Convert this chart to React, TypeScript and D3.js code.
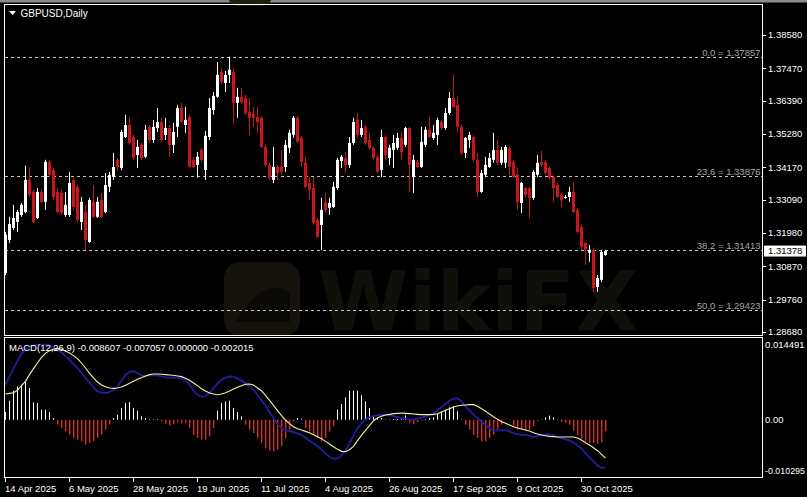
import React from "react";
import * as d3 from "d3";

// ---- price data (daily candles, 14 Apr 2025 .. 7 Nov 2025) ----
const opens = [
  1.3065, 1.3175, 1.3215, 1.3235, 1.3258, 1.3268, 1.3375, 1.3335, 1.3248, 1.3335,
  1.3302, 1.3435, 1.3408, 1.3335, 1.3332, 1.3258, 1.3258, 1.3375, 1.3352, 1.3235,
  1.3268, 1.3168, 1.3302, 1.3252, 1.3308, 1.3268, 1.3352, 1.3385, 1.3442, 1.3415,
  1.3518, 1.3558, 1.3518, 1.3458, 1.3492, 1.3452, 1.3552, 1.3508, 1.3548, 1.3568,
  1.3525, 1.3548, 1.3492, 1.3552, 1.3615, 1.3558, 1.3585, 1.3442, 1.3425, 1.3475,
  1.3408, 1.3518, 1.3608, 1.3652, 1.3735, 1.3698, 1.3725, 1.3735, 1.3632, 1.3652,
  1.3648, 1.3602, 1.3595, 1.3585, 1.3582, 1.3485, 1.3425, 1.3375, 1.3418, 1.3418,
  1.3418, 1.3482, 1.3525, 1.3582, 1.3515, 1.3432, 1.3365, 1.3348, 1.3242, 1.3225,
  1.3302, 1.3282, 1.3285, 1.3348, 1.3438, 1.3448, 1.3425, 1.3498, 1.3575, 1.3525,
  1.3552, 1.3508, 1.3482, 1.3452, 1.3408, 1.3518, 1.3448, 1.3475, 1.3482, 1.3515,
  1.3492, 1.3548, 1.3385, 1.3435, 1.3418, 1.3492, 1.3542, 1.3515, 1.3525, 1.3568,
  1.3548, 1.3598, 1.3648, 1.3625, 1.3552, 1.3465, 1.3508, 1.3518, 1.3442, 1.3335,
  1.3392, 1.3418, 1.3442, 1.3475, 1.3432, 1.3432, 1.3482, 1.3435, 1.3392, 1.3298,
  1.3348, 1.3348, 1.3315, 1.3392, 1.3435, 1.3435, 1.3415, 1.3385, 1.3358, 1.3325,
  1.3315, 1.3318, 1.3335, 1.3275, 1.3218, 1.3165, 1.3132, 1.3142, 1.3018, 1.3042,
  1.3125,
];
const highs = [
  1.3202, 1.3252, 1.3292, 1.3275, 1.3298, 1.3422, 1.3418, 1.3342, 1.3348, 1.3342,
  1.3442, 1.3442, 1.3415, 1.3348, 1.3342, 1.3335, 1.3402, 1.3382, 1.3358, 1.3318,
  1.3292, 1.3315, 1.3358, 1.3318, 1.3332, 1.3398, 1.3402, 1.3465, 1.3448, 1.3542,
  1.3592, 1.3582, 1.3525, 1.3508, 1.3498, 1.3558, 1.3558, 1.3575, 1.3615, 1.3582,
  1.3582, 1.3558, 1.3565, 1.3625, 1.3632, 1.3618, 1.3592, 1.3452, 1.3468, 1.3482,
  1.3538, 1.3648, 1.3668, 1.3768, 1.3748, 1.3738, 1.37857, 1.3748, 1.3682, 1.3682,
  1.3658, 1.3648, 1.3618, 1.3618, 1.3588, 1.3492, 1.3432, 1.3485, 1.3425, 1.3475,
  1.3508, 1.3542, 1.3588, 1.3588, 1.3522, 1.3452, 1.3385, 1.3385, 1.3248, 1.3315,
  1.3332, 1.3315, 1.3368, 1.3448, 1.3458, 1.3468, 1.3518, 1.3582, 1.3598, 1.3575,
  1.3558, 1.3532, 1.3485, 1.3458, 1.3542, 1.3525, 1.3492, 1.3525, 1.3532, 1.3535,
  1.3552, 1.3552, 1.3458, 1.3442, 1.3552, 1.3552, 1.3585, 1.3558, 1.3582, 1.3575,
  1.3615, 1.3668, 1.3728, 1.3652, 1.3558, 1.3518, 1.3535, 1.3525, 1.3465, 1.3408,
  1.3452, 1.3465, 1.3532, 1.3508, 1.3485, 1.3492, 1.3485, 1.3442, 1.3415, 1.3368,
  1.3352, 1.3352, 1.3408, 1.3458, 1.3472, 1.3442, 1.3418, 1.3392, 1.3365, 1.3332,
  1.3325, 1.3352, 1.3368, 1.3282, 1.3225, 1.3168, 1.3158, 1.3148, 1.3058, 1.3142,
  1.3142,
];
const lows = [
  1.3058, 1.3165, 1.3208, 1.3202, 1.3252, 1.3265, 1.3318, 1.3232, 1.3245, 1.3298,
  1.3275, 1.3385, 1.3308, 1.3265, 1.3258, 1.3252, 1.3252, 1.3275, 1.3235, 1.3208,
  1.3142, 1.3165, 1.3248, 1.3248, 1.3248, 1.3265, 1.3335, 1.3375, 1.3408, 1.3408,
  1.3515, 1.3492, 1.3442, 1.3415, 1.3442, 1.3448, 1.3498, 1.3498, 1.3535, 1.3502,
  1.3508, 1.3452, 1.3465, 1.3518, 1.3565, 1.3532, 1.3415, 1.3415, 1.3382, 1.3435,
  1.3375, 1.3508, 1.3592, 1.3648, 1.3695, 1.3668, 1.3698, 1.3562, 1.3582, 1.3628,
  1.3592, 1.3525, 1.3552, 1.3532, 1.3482, 1.3418, 1.3375, 1.3365, 1.3375, 1.3392,
  1.3402, 1.3465, 1.3515, 1.3498, 1.3418, 1.3348, 1.3308, 1.3225, 1.3182, 1.3141,
  1.3265, 1.3258, 1.3282, 1.3342, 1.3415, 1.3398, 1.3415, 1.3492, 1.3515, 1.3518,
  1.3492, 1.3475, 1.3442, 1.3398, 1.3385, 1.3442, 1.3425, 1.3415, 1.3475, 1.3442,
  1.3485, 1.3335, 1.3332, 1.3415, 1.3415, 1.3485, 1.3515, 1.3508, 1.3492, 1.3542,
  1.3542, 1.3592, 1.3615, 1.3532, 1.3458, 1.3448, 1.3482, 1.3435, 1.3318, 1.3332,
  1.3385, 1.3415, 1.3432, 1.3425, 1.3425, 1.3415, 1.3392, 1.3382, 1.3275, 1.3265,
  1.3315, 1.3248, 1.3308, 1.3385, 1.3418, 1.3392, 1.3375, 1.3302, 1.3315, 1.3285,
  1.3312, 1.3302, 1.3265, 1.3198, 1.3142, 1.3092, 1.3102, 1.3002, 1.3002, 1.3035,
  1.3122,
];
const closes = [
  1.3192, 1.3228, 1.3248, 1.3268, 1.3292, 1.3375, 1.3325, 1.3235, 1.3335, 1.3302,
  1.3435, 1.3392, 1.3318, 1.3268, 1.3265, 1.3292, 1.3365, 1.3285, 1.3242, 1.3302,
  1.3175, 1.3308, 1.3252, 1.3302, 1.3252, 1.3358, 1.3392, 1.3418, 1.3418, 1.3535,
  1.3558, 1.3498, 1.3448, 1.3485, 1.3448, 1.3542, 1.3508, 1.3552, 1.3568, 1.3508,
  1.3548, 1.3492, 1.3535, 1.3615, 1.3568, 1.3575, 1.3418, 1.3418, 1.3452, 1.3442,
  1.3522, 1.3615, 1.3655, 1.3725, 1.3702, 1.3725, 1.3742, 1.3632, 1.3652, 1.3635,
  1.3598, 1.3582, 1.3582, 1.3568, 1.3485, 1.3425, 1.3382, 1.3418, 1.3398, 1.3402,
  1.3492, 1.3532, 1.3582, 1.3502, 1.3435, 1.3352, 1.3342, 1.3232, 1.3185, 1.3275,
  1.3275, 1.3298, 1.3352, 1.3442, 1.3452, 1.3425, 1.3498, 1.3568, 1.3525, 1.3548,
  1.3498, 1.3482, 1.3448, 1.3402, 1.3518, 1.3458, 1.3482, 1.3498, 1.3515, 1.3468,
  1.3548, 1.3425, 1.3442, 1.3418, 1.3502, 1.3542, 1.3518, 1.3532, 1.3575, 1.3548,
  1.3598, 1.3648, 1.3618, 1.3552, 1.3465, 1.3515, 1.3525, 1.3442, 1.3335, 1.3398,
  1.3425, 1.3448, 1.3475, 1.3432, 1.3475, 1.3485, 1.3418, 1.3385, 1.3302, 1.3365,
  1.3325, 1.3315, 1.3402, 1.3432, 1.3425, 1.3398, 1.3382, 1.3348, 1.3318, 1.3308,
  1.3318, 1.3335, 1.3268, 1.3202, 1.3152, 1.3142, 1.3142, 1.3015, 1.3048, 1.3135,
  1.31378,
];

// ---- MACD(12,26,9) sub-window ----
const macdLine = [
  0.00629, 0.00779, 0.00916, 0.0106, 0.01186, 0.01264, 0.01306, 0.01336, 0.01342, 0.01348,
  0.01348, 0.01336, 0.01306, 0.01258, 0.0121, 0.01144, 0.01072, 0.01, 0.00928, 0.00839,
  0.00749, 0.00665, 0.00581, 0.00509, 0.00485, 0.00479, 0.00497, 0.00533, 0.00599, 0.00701,
  0.00809, 0.00857, 0.00869, 0.00839, 0.00797, 0.00779, 0.00791, 0.00797, 0.00797, 0.00779,
  0.00761, 0.00755, 0.00755, 0.00755, 0.00743, 0.00707, 0.00629, 0.00521, 0.00449, 0.00413,
  0.00425, 0.00479, 0.00569, 0.00647, 0.00713, 0.00755, 0.00779, 0.00773, 0.00737, 0.00701,
  0.00653, 0.00599, 0.00539, 0.00449, 0.00347, 0.00252, 0.00138, 0.0003, -0.00078, -0.0015,
  -0.00186, -0.00204, -0.00222, -0.00246, -0.00276, -0.00329, -0.00377, -0.00425, -0.00473, -0.00539,
  -0.00605, -0.00671, -0.00701, -0.00701, -0.00641, -0.00557, -0.00419, -0.00282, -0.0015, -0.0006,
  0.0, 0.00042, 0.00066, 0.00078, 0.00084, 0.0009, 0.00084, 0.00066, 0.00048, 0.0003,
  0.00018, 0.00006, 0.0, 0.00018, 0.00036, 0.00054, 0.00084, 0.0012, 0.00168, 0.00222,
  0.00282, 0.00341, 0.00377, 0.00383, 0.00329, 0.0024, 0.00162, 0.0009, 0.0003, -0.0003,
  -0.0009, -0.0015, -0.00198, -0.00198, -0.00186, -0.00192, -0.0021, -0.0024, -0.00258, -0.0027,
  -0.00276, -0.00288, -0.00317, -0.00293, -0.00276, -0.00264, -0.00264, -0.00282, -0.00311, -0.00335,
  -0.00353, -0.00371, -0.00407, -0.00461, -0.00521, -0.00599, -0.00677, -0.00749, -0.00821, -0.00869,
  -0.00857,
];
const signalLine = [
  0.00461, 0.00473, 0.00485, 0.00527, 0.00611, 0.00689, 0.00809, 0.00916, 0.01018, 0.0112,
  0.01192, 0.0124, 0.0127, 0.01276, 0.01264, 0.01234, 0.01198, 0.0115, 0.01096, 0.01018,
  0.00928, 0.00833, 0.00749, 0.00677, 0.00623, 0.00593, 0.00569, 0.00563, 0.00569, 0.00587,
  0.00617, 0.00653, 0.00689, 0.00725, 0.00755, 0.00785, 0.00809, 0.00821, 0.00821, 0.00815,
  0.00809, 0.00803, 0.00797, 0.00785, 0.00773, 0.00743, 0.00707, 0.00659, 0.00611, 0.00557,
  0.00515, 0.00479, 0.00461, 0.00449, 0.00461, 0.00485, 0.00515, 0.00551, 0.00581, 0.00611,
  0.00635, 0.00641, 0.00623, 0.00569, 0.00521, 0.00437, 0.00347, 0.00258, 0.00162, 0.00072,
  -0.00006, -0.00072, -0.00126, -0.00162, -0.00186, -0.0021, -0.00234, -0.0027, -0.00305, -0.00341,
  -0.00389, -0.00437, -0.00485, -0.00533, -0.00569, -0.00575, -0.00539, -0.00479, -0.00377, -0.00282,
  -0.00192, -0.00108, -0.00018, 0.0003, 0.0006, 0.00084, 0.00096, 0.00108, 0.00114, 0.0012,
  0.00114, 0.00108, 0.00102, 0.00096, 0.0009, 0.0009, 0.0009, 0.00096, 0.00108, 0.00138,
  0.00168, 0.00198, 0.00228, 0.00246, 0.00258, 0.00264, 0.0027, 0.0027, 0.0024, 0.00198,
  0.0015, 0.00102, 0.00054, 0.00006, -0.00036, -0.00066, -0.00096, -0.00126, -0.0015, -0.00168,
  -0.00186, -0.00204, -0.00234, -0.00258, -0.00276, -0.00288, -0.003, -0.00305, -0.00311, -0.00311,
  -0.00311, -0.00311, -0.00311, -0.00329, -0.00365, -0.00413, -0.00455, -0.00503, -0.00557, -0.00623,
  -0.00689,
];
const histogram = [
  0.00138, 0.00341, 0.00521, 0.00599, 0.00629, 0.00677, 0.00569, 0.00311, 0.003, 0.0018,
  0.0018, 0.00138, 0.0003, -0.0009, -0.0015, -0.0021, -0.0027, -0.00329, -0.00359, -0.00389,
  -0.00449, -0.00419, -0.00389, -0.00329, -0.0027, -0.0018, -0.0009, 0.0003, 0.0009, 0.0021,
  0.003, 0.00317, 0.0021, 0.00162, 0.0006, 0.0003, 0.00012, 0.00006, 0.00012, -0.0003,
  -0.00078, -0.00102, -0.00078, -0.00048, -0.00066, -0.0006, -0.0015, -0.0027, -0.00329, -0.00359,
  -0.00359, -0.003, -0.0015, 0.00162, 0.003, 0.00329, 0.00341, 0.0021, 0.00138, 0.0006,
  -0.0009, -0.0018, -0.0024, -0.00329, -0.00419, -0.00509, -0.00557, -0.00569, -0.00539, -0.00479,
  -0.00329, -0.0018, -0.0003, 0.0003, 0.00018, -0.0015, -0.0021, -0.0027, -0.00329, -0.00389,
  -0.00329, -0.0021, -0.0012, 0.0018, 0.00282, 0.00401, 0.00521, 0.00521, 0.00521, 0.00437,
  0.00329, 0.0021, 0.00072, 0.00042, 0.0003, 0.00006, 0.00006, 0.00012, 0.00012, 0.00012,
  0.00078, -0.0006, -0.00078, -0.00042, -0.00018, 0.00012, 0.0003, 0.00042, 0.00102, 0.00138,
  0.0018, 0.00222, 0.0024, 0.0015, 0.00006, -0.0009, -0.0018, -0.0027, -0.00329, -0.00389,
  -0.00389, -0.00329, -0.0027, -0.0018, -0.0009, -0.00006, -0.00006, -0.0012, -0.0018, -0.0018,
  -0.00192, -0.0018, -0.0012, -0.00018, 0.00006, 0.00042, 0.00072, 0.00042, 0.00006, -0.00042,
  -0.0006, -0.0009, -0.00198, -0.00282, -0.00341, -0.00389, -0.00419, -0.00419, -0.00431, -0.00407,
  -0.0021,
];

// ---- axes, levels, labels ----
const priceTicks = [1.3858, 1.3747, 1.3639, 1.3528, 1.3417, 1.3309, 1.3198, 1.3087, 1.2976, 1.2868];
const priceTickLabels = ["1.38580", "1.37470", "1.36390", "1.35280", "1.34170", "1.33090", "1.31980", "1.30870", "1.29760", "1.28680"];
const fibLevels = ["0.0", "23.6", "38.2", "50.0"];
const fibPrices = [1.37857, 1.33876, 1.31413, 1.29423];
const fibPriceLabels = ["1.37857", "1.33876", "1.31413", "1.29423"];
const dateTickIndex = [0, 16, 32, 48, 64, 80, 96, 112, 128, 144];
const dateTickLabels = ["14 Apr 2025", "6 May 2025", "28 May 2025", "19 Jun 2025", "11 Jul 2025", "4 Aug 2025", "26 Aug 2025", "17 Sep 2025", "9 Oct 2025", "30 Oct 2025"];
const macdAxisValues = [0.014491, 0, -0.010295];
const macdAxisLabels = ["0.014491", "0.00", "-0.010295"];
const lastPrice = 1.31378;
const lastPriceLabel = "1.31378";
const symbolTitle = "GBPUSD,Daily";
const macdTitle = "MACD(12,26,9) -0.008607 -0.007057 0.000000 -0.002015";

const FONT = "'Liberation Sans', Arial, sans-serif";
const RED = "#c8161e";
const HIST_RED = "#d42c2c";

export default function App() {
  const n = opens.length;
  const x = d3.scaleLinear().domain([0, n - 1]).range([5, 605]);
  const y = d3.scaleLinear().domain([1.2868, 1.3858]).range([332, 35]);
  const ym = d3.scaleLinear().domain([-0.010295, 0.014491]).range([477, 339]);

  const line = d3
    .line<number>()
    .x((_, i) => Math.round(x(i)) + 0.5)
    .y((v) => ym(v));

  const macdLabelOffsets = [6, 0, -6];

  return (
    <svg
      width={807}
      height={497}
      style={{ position: "fixed", left: 0, top: 0, display: "block" }}
      fontFamily={FONT}
    >
      <rect x={0} y={0} width={807} height={497} fill="#000" />
      <rect x={0} y={0} width={807} height={2.5} fill="#8a8a8a" />

      {/* watermark */}
      <g>
        <rect x={224} y={262} width={76} height={74} rx={16} fill="#15130c" />
        <path d="M236 322 Q 262 276 290 292 L 290 322 Z" fill="#0c0a06" />
        <text x={318} y={330} fontSize={82} fontWeight="bold" fill="#100f0a" fontFamily="'DejaVu Sans', sans-serif">
          WikiFX
        </text>
        <rect x={228} y={-30} width={44} height={36} rx={10} fill="#221e0e" />
      </g>

      <defs>
        <clipPath id="mainClip">
          <rect x={5} y={5} width={757} height={330} />
        </clipPath>
        <clipPath id="macdClip">
          <rect x={5} y={338} width={757} height={139} />
        </clipPath>
      </defs>

      {/* fibonacci levels */}
      {fibPrices.map((p, k) => (
        <g key={"fib" + k}>
          <line
            x1={5}
            x2={762}
            y1={Math.round(y(p)) + 0.5}
            y2={Math.round(y(p)) + 0.5}
            stroke="#c4c4c4"
            strokeWidth={1}
            strokeDasharray="3,3"
          />
          <text x={760.5} y={Math.round(y(p)) - 1.5} fontSize={9.5} fill="#a6a6a6" textAnchor="end">
            {fibLevels[k] + " = " + fibPriceLabels[k]}
          </text>
        </g>
      ))}

      {/* candles */}
      <g clipPath="url(#mainClip)">
        {opens.map((o, i) => {
          const c = closes[i];
          const up = c >= o;
          const col = up ? "#ffffff" : RED;
          const cx = Math.round(x(i));
          const top = y(Math.max(o, c));
          const bot = y(Math.min(o, c));
          return (
            <g key={"c" + i}>
              <rect x={cx} y={y(highs[i])} width={1} height={Math.max(1, y(lows[i]) - y(highs[i]))} fill={col} />
              <rect x={cx - 1} y={top} width={3} height={Math.max(1, bot - top)} fill={col} />
            </g>
          );
        })}
      </g>

      {/* MACD */}
      <g clipPath="url(#macdClip)">
        {histogram.map((h, i) => {
          const cx = Math.round(x(i));
          return (
            <rect
              key={"h" + i}
              x={cx}
              width={h >= 0 ? 1 : 1.4}
              y={Math.min(ym(0), ym(h))}
              height={Math.abs(ym(h) - ym(0))}
              fill={h >= 0 ? "#ffffff" : HIST_RED}
            />
          );
        })}
        <path d={line(macdLine) || ""} fill="none" stroke="#1e1ea0" strokeWidth={1.8} />
        <path d={line(signalLine) || ""} fill="none" stroke="#f4f0a8" strokeWidth={1.1} />
      </g>

      {/* frames */}
      <rect x={4.5} y={4.5} width={758} height={331} fill="none" stroke="#fff" strokeWidth={1} />
      <rect x={4.5} y={337.5} width={758} height={140} fill="none" stroke="#fff" strokeWidth={1} />

      {/* title */}
      <path d="M9 11 L16 11 L12.5 15 Z" fill="#fff" />
      <text x={20.5} y={16.5} fontSize={10} fill="#fff">
        {symbolTitle}
      </text>
      <text x={9} y={350.5} fontSize={9.5} fill="#fff">
        {macdTitle}
      </text>

      {/* price axis */}
      {priceTicks.map((p, k) => (
        <g key={"pt" + k}>
          <line x1={762} x2={766} y1={Math.round(y(p)) + 0.5} y2={Math.round(y(p)) + 0.5} stroke="#fff" />
          <text x={768} y={y(p)} dy="0.35em" fontSize={9.5} fill="#fff">
            {priceTickLabels[k]}
          </text>
        </g>
      ))}
      <rect x={764} y={y(lastPrice) - 5.5} width={42} height={11} fill="#fff" />
      <text x={768} y={y(lastPrice)} dy="0.35em" fontSize={9.5} fill="#000">
        {lastPriceLabel}
      </text>

      {/* MACD axis */}
      {macdAxisValues.map((v, k) => (
        <text
          key={"ma" + k}
          x={765}
          y={ym(v) + macdLabelOffsets[k]}
          dy="0.35em"
          fontSize={9.5}
          fill="#fff"
          textLength={k === 2 ? 40 : undefined}
          lengthAdjust={k === 2 ? "spacingAndGlyphs" : undefined}
        >
          {macdAxisLabels[k]}
        </text>
      ))}

      {/* date axis */}
      {dateTickIndex.map((idx, k) => {
        const tx = Math.round(x(idx)) + 0.5;
        return (
          <g key={"dt" + k}>
            <line x1={tx} x2={tx} y1={478} y2={482} stroke="#fff" />
            <text x={tx - 0.5} y={491.5} fontSize={9.5} fill="#fff">
              {dateTickLabels[k]}
            </text>
          </g>
        );
      })}
    </svg>
  );
}
